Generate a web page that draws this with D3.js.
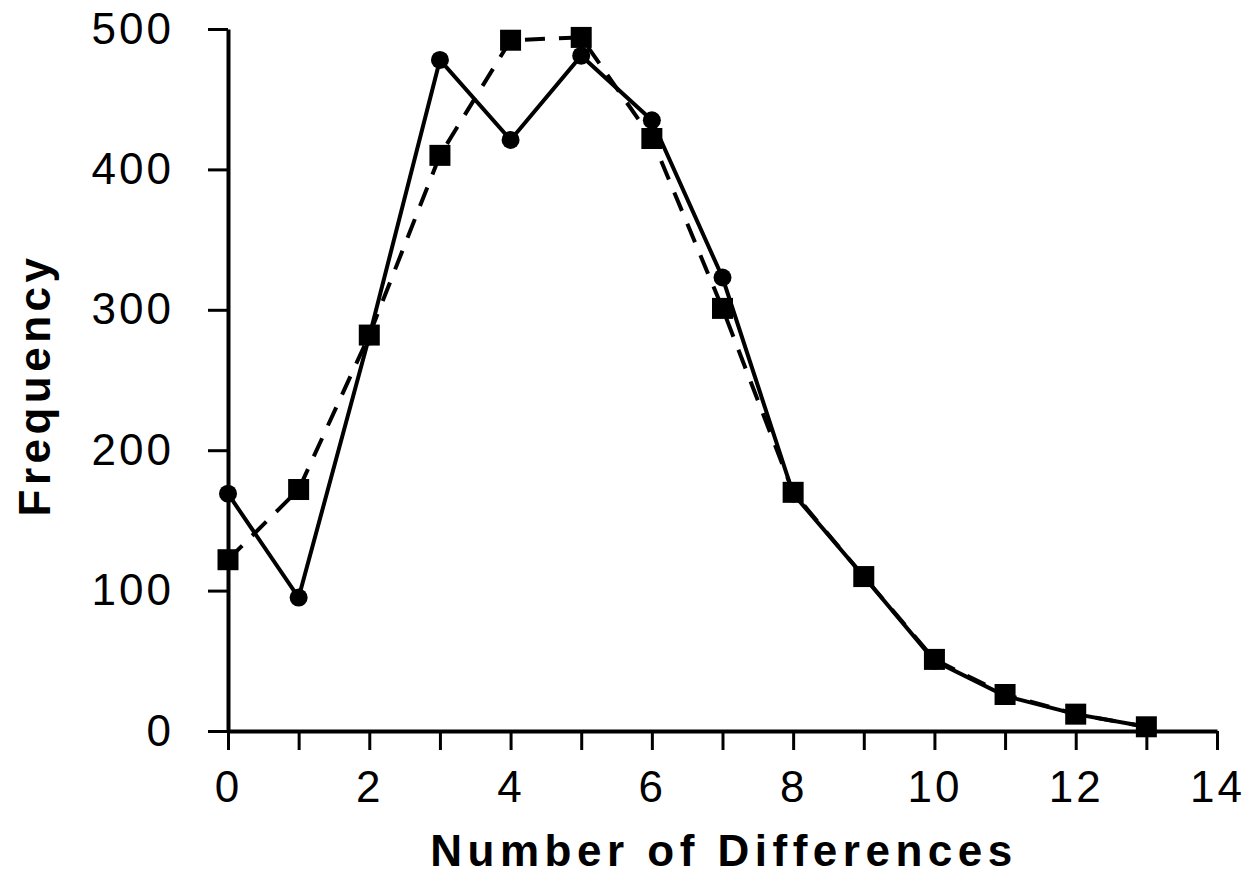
<!DOCTYPE html>
<html>
<head>
<meta charset="utf-8">
<script src="https://cdn.jsdelivr.net/npm/d3@7"></script>
<style>
  body { margin: 0; background: #fff; }
  text { font-family: "Liberation Sans", Arial, sans-serif; fill: #000; }
</style>
</head>
<body>
<script>
// data
var differences = [0, 1, 2, 3, 4, 5, 6, 7, 8, 9, 10, 11, 12, 13];
var observed = [169, 95, 281, 478, 421, 481, 435, 323, 169, 110, 50, 25, 12, 3];
var expected = [122, 172, 282, 410, 492, 494, 422, 301, 170, 110, 51, 26, 12, 3];
var xTicks = d3.range(0, 15);
var yTicks = [0, 100, 200, 300, 400, 500];

var width = 1255, height = 875;

var svg = d3.select("body").append("svg")
    .attr("width", width)
    .attr("height", height);

var x = d3.scaleLinear().domain([0, 14]).range([228, 1217]);
var y = d3.scaleLinear().domain([0, 500]).range([731, 29]);

// axes
var xAxis = svg.append("g")
    .attr("transform", "translate(0," + y(0) + ")")
    .call(d3.axisBottom(x)
        .tickValues(xTicks)
        .tickSize(19)
        .tickSizeOuter(0)
        .tickPadding(21)
        .tickFormat(function (d) { return d % 2 === 0 ? d : ""; }));

var yAxis = svg.append("g")
    .attr("transform", "translate(" + x(0) + ",0)")
    .call(d3.axisLeft(y)
        .tickValues(yTicks)
        .tickSize(20)
        .tickSizeOuter(0)
        .tickPadding(34));

[xAxis, yAxis].forEach(function (g) {
    g.select(".domain").attr("stroke", "#000").attr("stroke-width", 4);
    g.selectAll(".tick line").attr("stroke", "#000").attr("stroke-width", 3);
    g.selectAll(".tick text")
        .attr("font-family", "Liberation Sans, Arial, sans-serif")
        .style("font-size", "44px")
        .style("letter-spacing", "3px")
        .attr("fill", "#000");
});
xAxis.selectAll(".tick text").attr("dy", "0.71em");

// axis titles
svg.append("text")
    .attr("x", 724)
    .attr("y", 866)
    .attr("text-anchor", "middle")
    .style("font-size", "44px")
    .style("font-weight", "bold")
    .style("letter-spacing", "5.5px")
    .text("Number of Differences");

svg.append("text")
    .attr("transform", "translate(50,385) rotate(-90)")
    .attr("text-anchor", "middle")
    .style("font-size", "44px")
    .style("font-weight", "bold")
    .style("letter-spacing", "4.5px")
    .text("Frequency");

// lines
var line = d3.line()
    .x(function (d, i) { return x(differences[i]); })
    .y(function (d) { return y(d); });

svg.append("path")
    .datum(observed)
    .attr("d", line)
    .attr("fill", "none")
    .attr("stroke", "#000")
    .attr("stroke-width", 4);

svg.append("path")
    .datum(expected)
    .attr("d", line)
    .attr("fill", "none")
    .attr("stroke", "#000")
    .attr("stroke-width", 4)
    .attr("stroke-dasharray", "20,14");

// markers
svg.selectAll("circle.obs")
    .data(observed)
    .enter().append("circle")
    .attr("class", "obs")
    .attr("cx", function (d, i) { return x(differences[i]); })
    .attr("cy", function (d) { return y(d); })
    .attr("r", 9)
    .attr("fill", "#000");

svg.selectAll("rect.exp")
    .data(expected)
    .enter().append("rect")
    .attr("class", "exp")
    .attr("x", function (d, i) { return x(differences[i]) - 10.5; })
    .attr("y", function (d) { return y(d) - 10.5; })
    .attr("width", 21)
    .attr("height", 21)
    .attr("fill", "#000");
</script>
</body>
</html>
